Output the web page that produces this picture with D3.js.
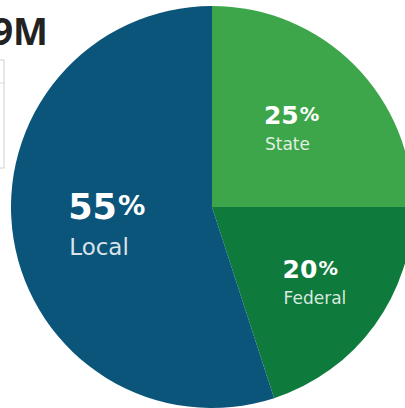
<!DOCTYPE html>
<html>
<head>
  <script src="https://cdn.jsdelivr.net/npm/d3@7"></script>
  <style>
    body { margin: 0; background: #fff; }
    svg { display: block; }
  </style>
</head>
<body>
  <script>
    var width = 405, height = 408;

    // clockwise from 12 o'clock
    var categories = ["State", "Federal", "Local"];
    var values = [25, 20, 55];
    var colors = ["#3da64a", "#0e7a3b", "#0b557b"];
    var headline = "9M";

    var cx = 212, cy = 207, radius = 201;

    var svg = d3.select("body")
      .append("svg")
      .attr("width", width)
      .attr("height", height);

    // remains of the cropped header on the left
    svg.append("text")
      .attr("x", 48)
      .attr("y", 45)
      .attr("text-anchor", "end")
      .style("font-family", "'Open Sans', sans-serif")
      .style("font-weight", 700)
      .style("font-size", "37px")
      .style("fill", "#222")
      .text(headline);

    svg.append("rect")
      .attr("x", -10)
      .attr("y", 60)
      .attr("width", 14)
      .attr("height", 108)
      .attr("fill", "none")
      .attr("stroke", "#cfcfcf");
    svg.append("line")
      .attr("x1", 0).attr("x2", 4)
      .attr("y1", 83).attr("y2", 83)
      .attr("stroke", "#d8d8d8");

    var pie = d3.pie().sort(null).value(d => d.value);
    var data = pie(categories.map((c, i) => ({ name: c, value: values[i], color: colors[i] })));

    var arc = d3.arc().innerRadius(0).outerRadius(radius);

    var g = svg.append("g").attr("transform", `translate(${cx},${cy})`);

    g.selectAll("path")
      .data(data)
      .enter().append("path")
      .attr("d", arc)
      .attr("fill", d => d.data.color);

    // label radius and text size differ a bit per slice in the original
    var labelStyle = {
      Local:   { r: 0.53, big: 35, small: 23 },
      State:   { r: 0.56, big: 25, small: 17 },
      Federal: { r: 0.63, big: 25, small: 17 }
    };

    var labels = g.selectAll("g.label")
      .data(data)
      .enter().append("g")
      .attr("class", "label");

    labels.each(function(d) {
      var s = labelStyle[d.data.name];
      var inner = d3.select(this).append("g");
      var pct = inner.append("text")
        .attr("x", 0).attr("y", 0)
        .style("font-family", "'DejaVu Sans', sans-serif")
        .style("font-weight", 700)
        .style("font-size", s.big + "px")
        .style("fill", "#fff");
      pct.append("tspan").text(d.data.value);
      pct.append("tspan")
        .attr("dx", 1)
        .attr("dy", -s.big * 0.12)
        .style("font-size", (s.big * 0.78) + "px")
        .text("%");
      inner.append("text")
        .attr("x", 1).attr("y", s.big * 0.42 + s.small * 0.92)
        .style("font-family", "'DejaVu Sans', sans-serif")
        .style("font-size", s.small + "px")
        .style("fill", "#fff")
        .style("fill-opacity", 0.85)
        .text(d.data.name);

      var bb = inner.node().getBBox();
      var c = d3.arc().innerRadius(radius * s.r).outerRadius(radius * s.r).centroid(d);
      inner.attr("transform", `translate(${c[0] - bb.x - bb.width / 2},${c[1] - bb.y - bb.height / 2})`);
    });
  </script>
</body>
</html>
